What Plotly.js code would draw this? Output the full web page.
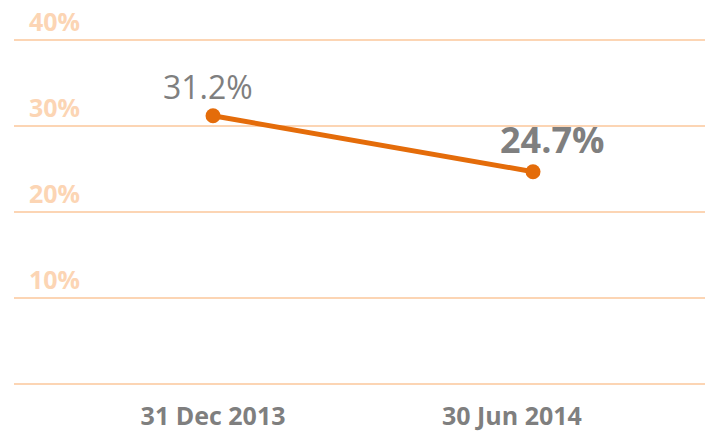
<!DOCTYPE html>
<html>
<head>
<meta charset="utf-8">
<script src="https://cdn.plot.ly/plotly-3.0.1.min.js"></script>
<style>html,body{margin:0;padding:0;background:#fff;}#chart{width:705px;height:431px;}</style>
</head>
<body>
<div id="chart"></div>
<script>
var categories = ['31 Dec 2013', '30 Jun 2014'];
var values = [31.2, 24.7];
var valueLabels = ['31.2%', '24.7%'];
var yTickValues = [0, 10, 20, 30, 40];
var yTickLabels = ['', '10%', '20%', '30%', '40%'];

var idx = categories.map(function (c, i) { return i; });
var peach = '#fcd5b4';
var gray = '#7f7f7f';
var orange = '#e46c0a';
var font = 'Open Sans, Liberation Sans, sans-serif';

var trace = {
  x: idx,
  y: values,
  type: 'scatter',
  mode: 'lines+markers',
  line: {color: orange, width: 5},
  marker: {color: orange, size: 15},
  hoverinfo: 'skip'
};

var labelStyles = [
  {size: 32, weight: 'normal', xshift: -5, yshift: 6},
  {size: 36, weight: 'bold', xshift: 19, yshift: 6}
];

var annotations = values.map(function (v, i) {
  return {
    x: idx[i], y: v, xref: 'x', yref: 'y',
    text: valueLabels[i], showarrow: false,
    xanchor: 'center', yanchor: 'bottom',
    xshift: labelStyles[i].xshift, yshift: labelStyles[i].yshift,
    font: {family: font, size: labelStyles[i].size, color: gray, weight: labelStyles[i].weight}
  };
});

var layout = {
  width: 705, height: 431,
  margin: {l: 14, r: 0, t: 0, b: 45, pad: 0},
  paper_bgcolor: '#fff', plot_bgcolor: '#fff',
  showlegend: false,
  xaxis: {
    range: [-0.622, 1.5375],
    tickvals: [0, 0.934],
    ticktext: categories,
    showgrid: false, zeroline: false, showline: false,
    ticks: '', ticklabelstandoff: 13,
    tickfont: {family: font, size: 25, color: gray, weight: 'bold'},
    fixedrange: true
  },
  yaxis: {
    range: [-0.2, 44.65],
    tickvals: yTickValues,
    ticktext: yTickLabels,
    ticklabelposition: 'inside top',
    ticklabelstandoff: 12,
    showgrid: true, gridcolor: peach, gridwidth: 2,
    zeroline: false, showline: false, ticks: '',
    tickfont: {family: font, size: 25, color: peach, weight: 'bold'},
    fixedrange: true
  },
  annotations: annotations
};

Plotly.newPlot('chart', [trace], layout, {displayModeBar: false, staticPlot: true});
</script>
</body>
</html>
